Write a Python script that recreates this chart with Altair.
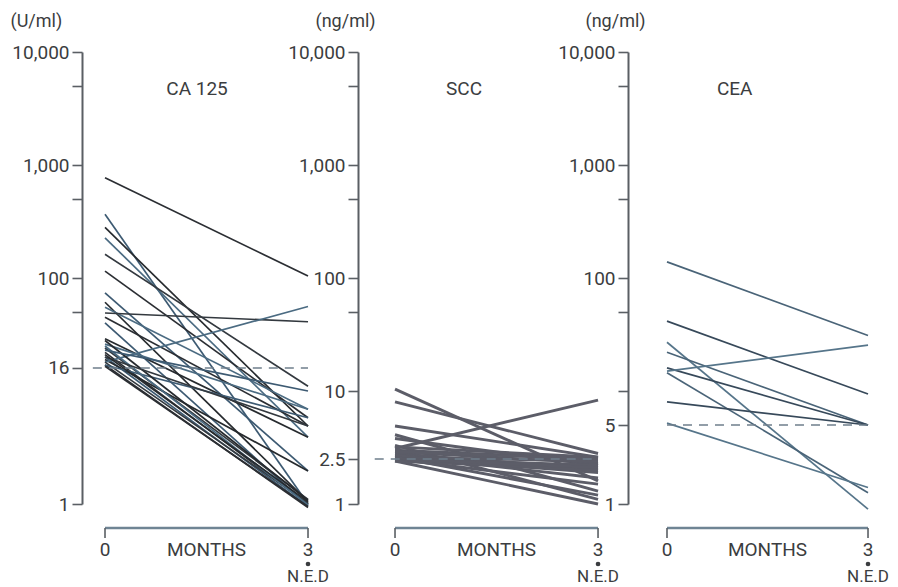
import altair as alt
import pandas as pd

# ---------------- data ----------------
months = [0, 3]

# CA 125 (U/ml): value at 0 months and at 3 months (N.E.D)
ca_start = [772, 366, 280, 227, 162, 115, 74, 61, 55, 49, 45, 40, 29, 26, 24,
            22, 20, 19, 18, 18, 17, 17, 28, 25, 20, 16.5, 23, 21]
ca_end = [104, 1.0, 4.9, 3.9, 11, 5.8, 1.96, 1.05, 6.9, 41, 4.9, 0.97, 3.9, 6.9,
          1.1, 1.0, 0.95, 1.96, 56, 1.02, 0.93, 5.8, 1.08, 0.98, 4.9, 0.95, 10, 1.05]

# SCC (ng/ml)
scc_start = [10.4, 8.0, 3.1, 4.9, 4.1, 3.8, 3.3, 3.0, 2.9, 2.8, 2.7, 2.6, 2.6,
             2.5, 2.5, 2.4, 2.4, 2.7, 3.2, 2.5, 2.9, 2.6]
scc_end = [1.6, 2.8, 8.3, 2.6, 1.3, 2.2, 1.1, 2.5, 2.3, 2.0, 2.1, 1.9, 2.4,
           2.2, 1.5, 1.0, 2.0, 1.7, 2.6, 2.1, 2.5, 1.2]

# CEA (ng/ml)
cea_start = [139, 41.5, 27, 22, 16, 15, 14.5, 8.0, 5.2]
cea_end = [31, 9.4, 0.9, 5.0, 5.0, 25.5, 1.26, 5.0, 1.4]

panel_names = ["CA 125", "SCC", "CEA"]
units = ["(U/ml)", "(ng/ml)", "(ng/ml)"]
cutoffs = [16, 2.5, 5]
tick_values = [
    [1, 16, 50, 100, 500, 1000, 5000, 10000],
    [1, 2.5, 10, 50, 100, 500, 1000, 5000, 10000],
    [1, 5, 10, 50, 100, 500, 1000, 5000, 10000],
]
tick_labels = [
    [1, 16, 100, 1000, 10000],
    [1, 2.5, 10, 100, 1000, 10000],
    [1, 5, 100, 1000, 10000],
]
x_labels = ["0", "MONTHS", "3"]
x_label_pos = [0, 1.5, 3]

# ---------------- layout / style ----------------
H = 452
geom = [  # width, x-domain, title x, title y, unit title x, cutoff start
    dict(w=266, dom=[-0.340, 3.591], tx=1.36, ty=4700, ux=-72, cx=-0.18),
    dict(w=260, dom=[-0.547, 3.295], tx=1.02, ty=4700, ux=-43, cx=-0.30),
    dict(w=250, dom=[-0.582, 3.149], tx=1.01, ty=4700, ux=-43, cx=0.0),
]
palettes = [
    ["#2b2e33", "#3d5a72", "#262a2e", "#4b6b82", "#33393f"],
    ["#5c5d68"],
    ["#4a6478", "#37495a", "#56758a"],
]
widths = [1.7, 2.9, 1.7]
TXT = "#3b3d40"
FONT = "Roboto"

series = [(ca_start, ca_end), (scc_start, scc_end), (cea_start, cea_end)]

panels = []
for i, (s, e) in enumerate(series):
    g = geom[i]
    rows = []
    for k, (a, b) in enumerate(zip(s, e)):
        col = palettes[i][k % len(palettes[i])]
        rows.append(dict(id=k, month=months[0], value=a, col=col))
        rows.append(dict(id=k, month=months[1], value=b, col=col))
    df = pd.DataFrame(rows)

    xs = alt.Scale(domain=g["dom"], nice=False, zero=False)
    ys = alt.Scale(type="log", domain=[1, 10000], nice=False)
    lab = tick_labels[i]
    lab_expr = "indexof(" + str(lab) + ", datum.value) >= 0 ? format(datum.value, ',') : ''"
    yaxis = alt.Axis(
        values=tick_values[i], labelExpr=lab_expr, grid=False,
        tickSize=10, tickWidth=1.6, domainWidth=2, tickColor="#5a5f64",
        domainColor="#5a5f64", labelPadding=3, labelFontSize=19,
        labelColor=TXT, labelFont=FONT,
        title=units[i], titleAngle=0, titleAlign="left", titleBaseline="bottom",
        titleX=g["ux"], titleY=-22, titleFontSize=18, titleFontWeight="normal",
        titleColor=TXT, titleFont=FONT,
    )

    lines = alt.Chart(df).mark_line(strokeWidth=widths[i]).encode(
        x=alt.X("month:Q", scale=xs, axis=None),
        y=alt.Y("value:Q", scale=ys, axis=yaxis),
        detail="id:N",
        color=alt.Color("col:N", scale=None),
    )

    ref = alt.Chart(pd.DataFrame({"a": [g["cx"]], "b": [3], "v": [cutoffs[i]]})).mark_rule(
        strokeDash=[9, 7], strokeWidth=1.6, color="#6f7f8c"
    ).encode(
        x=alt.X("a:Q", scale=xs, axis=None), x2="b:Q",
        y=alt.Y("v:Q", scale=ys, axis=yaxis),
    )

    bracket = alt.Chart(pd.DataFrame({"a": [months[0]], "b": [months[1]]})).mark_rule(
        strokeWidth=2.4, color="#6f8494"
    ).encode(
        x=alt.X("a:Q", scale=xs, axis=None), x2="b:Q", y=alt.value(H + 24)
    )
    ends = alt.Chart(pd.DataFrame({"m": months})).mark_rule(
        strokeWidth=1.6, color="#5a5f64"
    ).encode(
        x=alt.X("m:Q", scale=xs, axis=None), y=alt.value(H + 24), y2=alt.value(H + 34)
    )
    xl = alt.Chart(pd.DataFrame({"m": x_label_pos, "t": x_labels})).mark_text(
        fontSize=19, font=FONT, color=TXT, baseline="middle"
    ).encode(
        x=alt.X("m:Q", scale=xs, axis=None), y=alt.value(H + 46), text="t:N"
    )
    dot = alt.Chart(pd.DataFrame({"m": [months[1]]})).mark_circle(
        size=22, color=TXT, opacity=1
    ).encode(
        x=alt.X("m:Q", scale=xs, axis=None), y=alt.value(H + 60)
    )
    ned = alt.Chart(pd.DataFrame({"m": [months[1]], "t": ["N.E.D"]})).mark_text(
        fontSize=17, font=FONT, color=TXT, baseline="middle"
    ).encode(
        x=alt.X("m:Q", scale=xs, axis=None), y=alt.value(H + 73), text="t:N"
    )
    ttl = alt.Chart(pd.DataFrame({"m": [g["tx"]], "v": [g["ty"]], "t": [panel_names[i]]})).mark_text(
        fontSize=19, font=FONT, color=TXT, baseline="middle"
    ).encode(
        x=alt.X("m:Q", scale=xs, axis=None),
        y=alt.Y("v:Q", scale=ys, axis=yaxis),
        text="t:N",
    )

    panels.append(
        alt.layer(lines, ref, bracket, ends, xl, dot, ned, ttl).properties(width=g["w"], height=H)
    )

chart = (
    alt.hconcat(*panels, spacing=10, bounds="flush")
    .resolve_scale(x="independent", y="independent")
    .configure_view(stroke=None)
    .properties(padding={"top": 4, "left": 2, "right": 0, "bottom": 0}, background="white")
)

chart.save("out.html", embed_options={"renderer": "svg", "actions": False})
